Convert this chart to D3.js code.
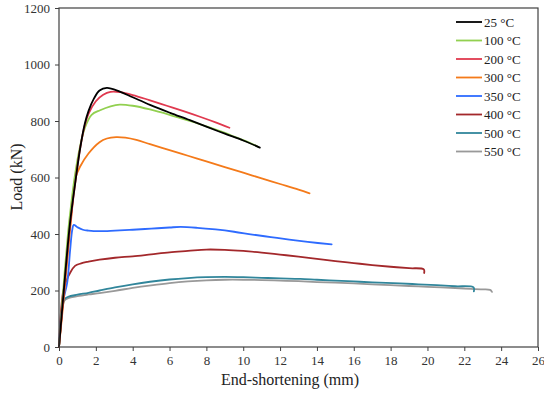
<!DOCTYPE html>
<html><head><meta charset="utf-8">
<script src="https://cdn.jsdelivr.net/npm/d3@7"></script>
<style>body{margin:0;background:#fff}svg{display:block}</style>
</head><body><svg id="c" width="544" height="396"></svg>
<script>
const xTicks = [0,2,4,6,8,10,12,14,16,18,20,22,24,26];
const yTicks = [0,200,400,600,800,1000,1200];
const seriesNames = ["25 °C","100 °C","200 °C","300 °C","350 °C","400 °C","500 °C","550 °C"];
const seriesColors = ["#000000","#92d050","#e0394f","#f47a1a","#2e6bff","#a3282b","#31869b","#999999"];

const s25 = [[0,0],[0.3,230],[0.6,440],[0.9,590],[1.14,700],[1.4,790],[1.6,835],[1.9,880],[2.2,908],[2.6,917],[3.3,904],[4,884],[4.94,857],[6.03,829],[7.1,803],[8,780],[9,755],[10,731],[10.9,706]];
const s100 = [[0,0],[0.3,260],[0.5,410],[0.65,500],[0.87,610],[1.14,709],[1.4,775],[1.77,822],[2.23,838],[2.8,852],[3.3,858],[4,854],[4.94,841],[6,822],[7.1,800],[8,781],[8.74,764],[9.5,745],[10.2,727],[10.8,709]];
const s200 = [[0,0],[0.3,220],[0.6,430],[0.9,590],[1.14,700],[1.4,785],[1.6,825],[2.0,870],[2.4,893],[2.8,903],[3.3,902],[4.0,892],[4.9,874],[5.85,854],[6.8,834],[7.65,815],[8.5,795],[9.25,776]];
const s300 = [[0,0],[0.3,200],[0.55,380],[0.7,480],[0.8,560],[0.9,600],[1.14,638],[1.6,685],[2.2,725],[2.6,738],[3.1,743],[3.6,741],[4.2,733],[4.94,718],[6,697],[7,677],[8,657],[9,637],[10,617],[11,597],[12,577],[13,557],[13.6,544]];
const s350 = [[0,0],[0.12,110],[0.25,170],[0.45,230],[0.6,340],[0.72,415],[0.8,432],[1.0,424],[1.3,415],[1.6,412],[2.2,410],[3.04,412],[4,415],[5,419],[6,423],[6.6,425],[7.5,422],[8.5,416],[9.5,408],[10.5,398],[11.5,389],[12.5,380],[13.5,372],[14.8,363]];
const s400 = [[0,0],[0.1,120],[0.24,202],[0.4,235],[0.6,262],[0.87,287],[1.2,296],[1.6,302],[2.2,309],[3.04,316],[4,321],[5,328],[6,335],[7,340],[8,345],[9,344],[10,340],[11,334],[12,327],[13,320],[14,312],[15,304],[16,297],[17,290],[18,284],[19,279],[19.8,275],[19.82,262]];
const s500 = [[0,0],[0.1,80],[0.2,150],[0.3,170],[0.5,178],[1,185],[1.6,192],[2.2,200],[3.04,211],[4,222],[4.94,231],[6,239],[7,244],[8,247],[9,248],[10,247],[11,245],[12,243],[13.1,241],[14,238],[15,235],[16,232],[17,229],[18.5,225],[19.5,222],[20.5,219],[21.5,215],[22.5,211],[22.52,197]];
const s550 = [[0,0],[0.1,75],[0.2,145],[0.3,165],[0.5,173],[1,180],[1.6,186],[2.2,191],[3.04,199],[4,209],[5,218],[6,226],[7,232],[8,236],[9,238],[10,238],[11,237],[12,235],[13,233],[14,230],[15,228],[16,225],[17,222],[18,219],[19,216],[20,213],[21,210],[22,207],[23,204],[23.4,202],[23.5,195]];
const seriesData = [s25,s100,s200,s300,s350,s400,s500,s550];

const FONT = "Liberation Serif";
const W=544,H=396,m={l:59,t:8,r:6,b:49};
const svg=d3.select("#c");
const x=d3.scaleLinear().domain([0,26]).range([m.l,W-m.r]);
const y=d3.scaleLinear().domain([0,1200]).range([H-m.b,m.t]);
const axCol="#404040";

const gx=svg.append("g").attr("transform",`translate(0,${H-m.b})`)
  .call(d3.axisBottom(x).tickValues(xTicks).tickSize(4).tickPadding(5).tickFormat(d3.format("d")));
const gy=svg.append("g").attr("transform",`translate(${m.l},0)`)
  .call(d3.axisLeft(y).tickValues(yTicks).tickSize(4).tickPadding(5).tickFormat(d3.format("d")));
[gx,gy].forEach(g=>{
  g.attr("font-family",FONT).attr("font-size",13);
  g.select(".domain").remove();
  g.selectAll(".tick line").attr("stroke",axCol);
  g.selectAll(".tick text").attr("fill","#333");
});

const line=d3.line().x(d=>x(d[0])).y(d=>y(d[1])).curve(d3.curveCatmullRom.alpha(0.5));
const order=[7,6,5,4,3,1,2,0];
order.forEach(i=>{
  svg.append("path").datum(seriesData[i]).attr("d",line)
    .attr("fill","none").attr("stroke",seriesColors[i]).attr("stroke-width",1.8)
    .attr("stroke-linejoin","round").attr("stroke-linecap","round");
});

svg.append("rect").attr("x",m.l).attr("y",m.t).attr("width",W-m.r-m.l).attr("height",H-m.b-m.t)
  .attr("fill","none").attr("stroke",axCol).attr("stroke-width",1.2);

const lg=svg.append("g").attr("font-family",FONT).attr("font-size",13);
seriesNames.forEach((n,i)=>{
  const yy=22+i*18.5;
  lg.append("line").attr("x1",456).attr("x2",482).attr("y1",yy).attr("y2",yy)
    .attr("stroke",seriesColors[i]).attr("stroke-width",1.8);
  lg.append("text").attr("x",484).attr("y",yy).attr("dy","0.35em")
    .attr("fill","#222").text(n);
});

svg.append("text").attr("x",290).attr("y",385).attr("text-anchor","middle")
  .attr("font-family",FONT).attr("font-size",16)
  .attr("fill","#222").text("End-shortening (mm)");
svg.append("text").attr("transform",`translate(16,${177}) rotate(-90)`).attr("text-anchor","middle")
  .attr("font-family",FONT).attr("font-size",16)
  .attr("dy","0.35em").attr("fill","#222").text("Load (kN)");
</script></body></html>
